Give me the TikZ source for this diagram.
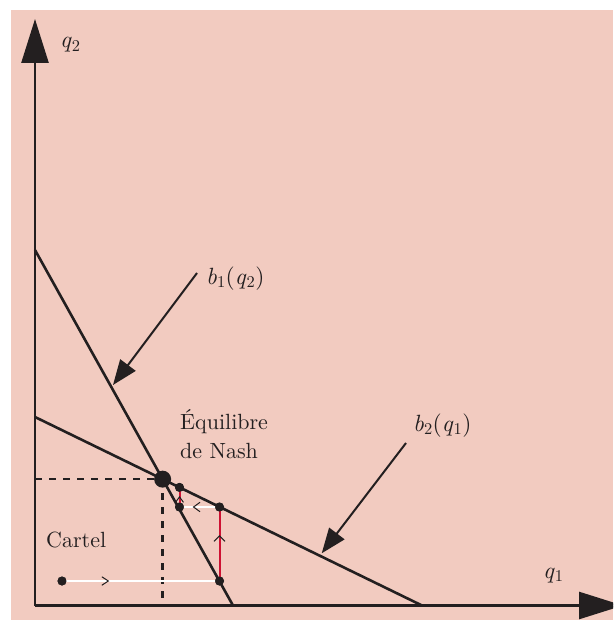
\documentclass[tikz,border=0pt]{standalone}
\usepackage{fontspec}
\setmainfont{lmroman10-regular.otf}[ItalicFont=lmroman10-italic.otf]
\usetikzlibrary{arrows.meta,decorations.markings,calc}
\definecolor{bgpink}{RGB}{242,203,192}
\definecolor{ink}{RGB}{35,31,32}
\definecolor{cred}{RGB}{206,17,50}
\newcommand{\vi}[2]{\textit{#1}\textsubscript{#2}}
\begin{document}
\begin{tikzpicture}[x=1pt,y=-1pt,
  axis/.style={ink,line width=2.6pt,-{Triangle[length=44pt,width=27pt]}},
  resp/.style={ink,line width=2.6pt},
  guide/.style={ink,line width=2.4pt,dash pattern=on 7pt off 7pt},
  leader/.style={ink,line width=2pt,-{Triangle[length=25pt,width=19pt]}},
  dot/.style={circle,fill=ink,inner sep=0pt,minimum size=9pt},
  bigdot/.style={circle,fill=ink,inner sep=0pt,minimum size=17pt},
  wpath/.style={white,line width=1.8pt},
  rpath/.style={cred,line width=2pt},
  chev/.style n args={3}{postaction={decorate},decoration={markings,mark=at position #1 with {\arrow[ink,line width=1pt]{Straight Barb[length=#2,width=#3]}}}},
  lbl/.style={ink,inner sep=0pt,font=\fontsize{23.5}{28}\selectfont},
  txt/.style={ink,inner sep=0pt,font=\fontsize{22}{29}\selectfont}
]
\path[use as bounding box] (0,0) rectangle (613,620);
\clip (0,0) rectangle (613,620);
\fill[white] (0,0) rectangle (613,620);
\fill[bgpink] (11,10) rectangle (613,620);

% key points
\coordinate (O) at (35,605.5);
\coordinate (Ytip) at (35,19);
\coordinate (Xtip) at (623,605.5);
\coordinate (A1) at (35,250);
\coordinate (B1) at (233,605.5);
\coordinate (A2) at (35,417);
\coordinate (B2) at (422,605.5);
\coordinate (E) at (intersection of A1--B1 and A2--B2);
\coordinate (Ey) at (E -| O);
\coordinate (Ex) at (E |- O);

% response functions
\draw[resp] (A1) -- (B1);
\draw[resp] (A2) -- (B2);

% dashed guides
\draw[guide] (Ey) -- (E);
\draw[guide] (E) -- (Ex);

% adjustment path
\node[dot] (C) at (62,581) {};
\node[dot] (P1) at (219.5,581) {};
\node[dot] (P2) at (219.5,507) {};
\node[dot] (P3) at (179.5,507) {};
\node[dot] (P4) at (179.5,487.4) {};
\draw[wpath,chev={0.30}{6.5pt}{8.5pt}] (C.center) -- (P1.center);
\draw[rpath,chev={0.62}{5.5pt}{11pt}] (P1.center) -- (P2.center);
\draw[wpath,chev={0.67}{6.5pt}{9.5pt}] (P2.center) -- (P3.center);
\draw[rpath,chev={0.56}{5.5pt}{8pt}] (P3.center) -- (P4.center);
\node[dot] at (C) {};
\node[dot] at (P1) {};
\node[dot] at (P2) {};
\node[dot] at (P3) {};
\node[dot] at (P4) {};
\node[bigdot] (Eq) at (E) {};

% leaders
\coordinate (L1) at (197,273);
\coordinate (T1) at (113,385);
\coordinate (L2) at (406,443);
\coordinate (T2) at (321.7,553.3);
\draw[leader] (L1) -- (T1);
\draw[leader] (L2) -- (T2);

% axes
\draw[axis] (O) -- (Ytip);
\draw[axis] (O) -- (Xtip);

% labels
\node[lbl,anchor=base west] (lq2) at (60,48) {\vi{q}{2}};
\node[lbl,anchor=base west] (lq1) at (543,578) {\vi{q}{1}};
\node[lbl,anchor=base west] (lb1) at (206,284) {\vi{b}{1}(\vi{q}{2})};
\node[lbl,anchor=base west] (lb2) at (413,431) {\vi{b}{2}(\vi{q}{1})};
\node[txt,anchor=base west] (lc) at (46,547) {Cartel};
\node[txt,anchor=base west] (ln1) at (180,429) {Équilibre};
\node[txt,anchor=base west] (ln2) at (180,458) {de Nash};
\end{tikzpicture}
\end{document}
